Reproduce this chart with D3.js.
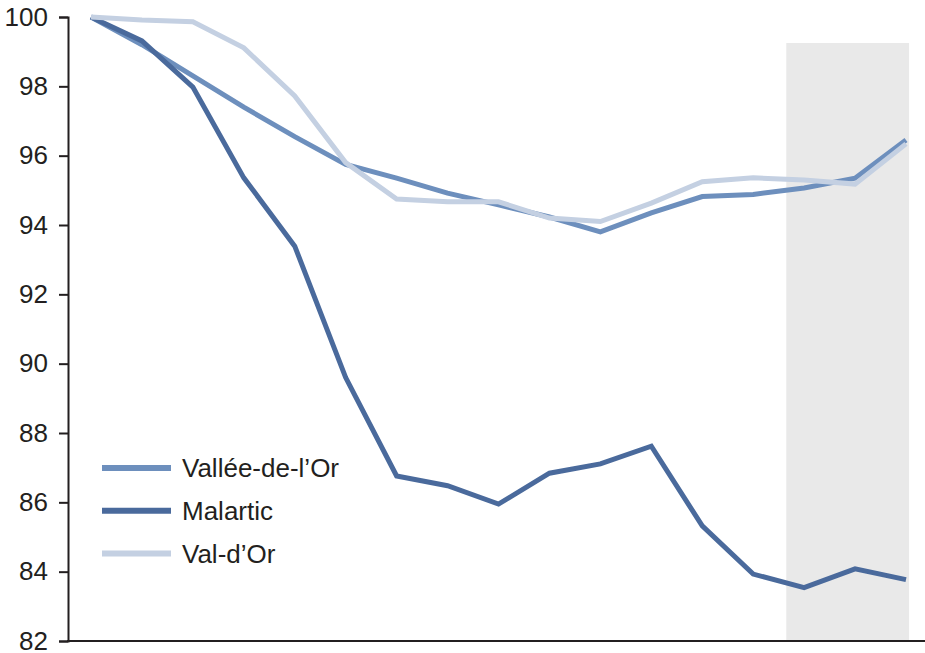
<!DOCTYPE html>
<html><head><meta charset="utf-8">
<script src="https://cdn.jsdelivr.net/npm/d3@7"></script>
<style>
html,body{margin:0;padding:0;background:#fff;}
text{font-family:"Liberation Sans",Arial,sans-serif;fill:#231f20;}
</style></head>
<body><svg id="c" width="925" height="653"></svg>
<script>
const periods = d3.range(17);
const valleeDeLOr = [100, 99.2, 98.3, 97.4, 96.55, 95.75, 95.35, 94.92, 94.58, 94.23, 93.8, 94.35, 94.82, 94.88, 95.07, 95.35, 96.45];
const malartic   = [100, 99.31, 97.98, 95.36, 93.39, 89.6, 86.76, 86.48, 85.95, 86.84, 87.11, 87.62, 85.32, 83.93, 83.54, 84.08, 83.77];
const valDOr     = [100, 99.91, 99.86, 99.11, 97.72, 95.8, 94.75, 94.67, 94.67, 94.2, 94.1, 94.63, 95.25, 95.36, 95.3, 95.18, 96.34];
const yTicks = [82, 84, 86, 88, 90, 92, 94, 96, 98, 100];
const seriesNames = ["Vallée-de-l’Or", "Malartic", "Val-d’Or"];
const seriesColors = ["#6d8fbd", "#4a6a9c", "#c4d0e2"];
const shadeFrom = 13.65, shadeTo = 16.06, shadeTop = 99.25;

const series = [valleeDeLOr, malartic, valDOr];
const svg = d3.select("#c");
const x = d3.scaleLinear().domain([0, 16]).range([91, 906]);
const y = d3.scaleLinear().domain([82, 100]).range([641, 17]);

// shaded region
svg.append("rect")
  .attr("x", x(shadeFrom)).attr("y", y(shadeTop))
  .attr("width", x(shadeTo) - x(shadeFrom))
  .attr("height", y(82) - y(shadeTop))
  .attr("fill", "#e9e9e9");

// y axis
const ya = svg.append("g").attr("transform", "translate(68,0)")
  .call(d3.axisLeft(y).tickValues(yTicks).tickSize(9).tickPadding(11));
ya.select(".domain").attr("stroke", "#231f20").attr("stroke-width", 2);
ya.selectAll(".tick line").attr("stroke", "#231f20").attr("stroke-width", 2);
ya.selectAll(".tick text").attr("font-size", 26).attr("font-family", "Liberation Sans, Arial, sans-serif").attr("fill", "#231f20");

// x axis line
svg.append("line").attr("x1", 67).attr("x2", 925).attr("y1", y(82)).attr("y2", y(82))
  .attr("stroke", "#231f20").attr("stroke-width", 2);

const line = d3.line().x((d, i) => x(periods[i])).y(d => y(d));
[0, 1, 2].forEach(k => {
  svg.append("path").datum(series[k]).attr("d", line)
    .attr("fill", "none").attr("stroke", seriesColors[k])
    .attr("stroke-width", 5).attr("stroke-linejoin", "miter");
});

// legend
const lg = svg.append("g");
seriesNames.forEach((n, i) => {
  const yy = 468 + i * 42.7;
  lg.append("line").attr("x1", 102).attr("x2", 171).attr("y1", yy).attr("y2", yy)
    .attr("stroke", seriesColors[i]).attr("stroke-width", 6);
  lg.append("text").attr("x", 182).attr("y", yy).attr("dy", "0.35em")
    .attr("font-size", 26).text(n);
});
</script></body></html>
